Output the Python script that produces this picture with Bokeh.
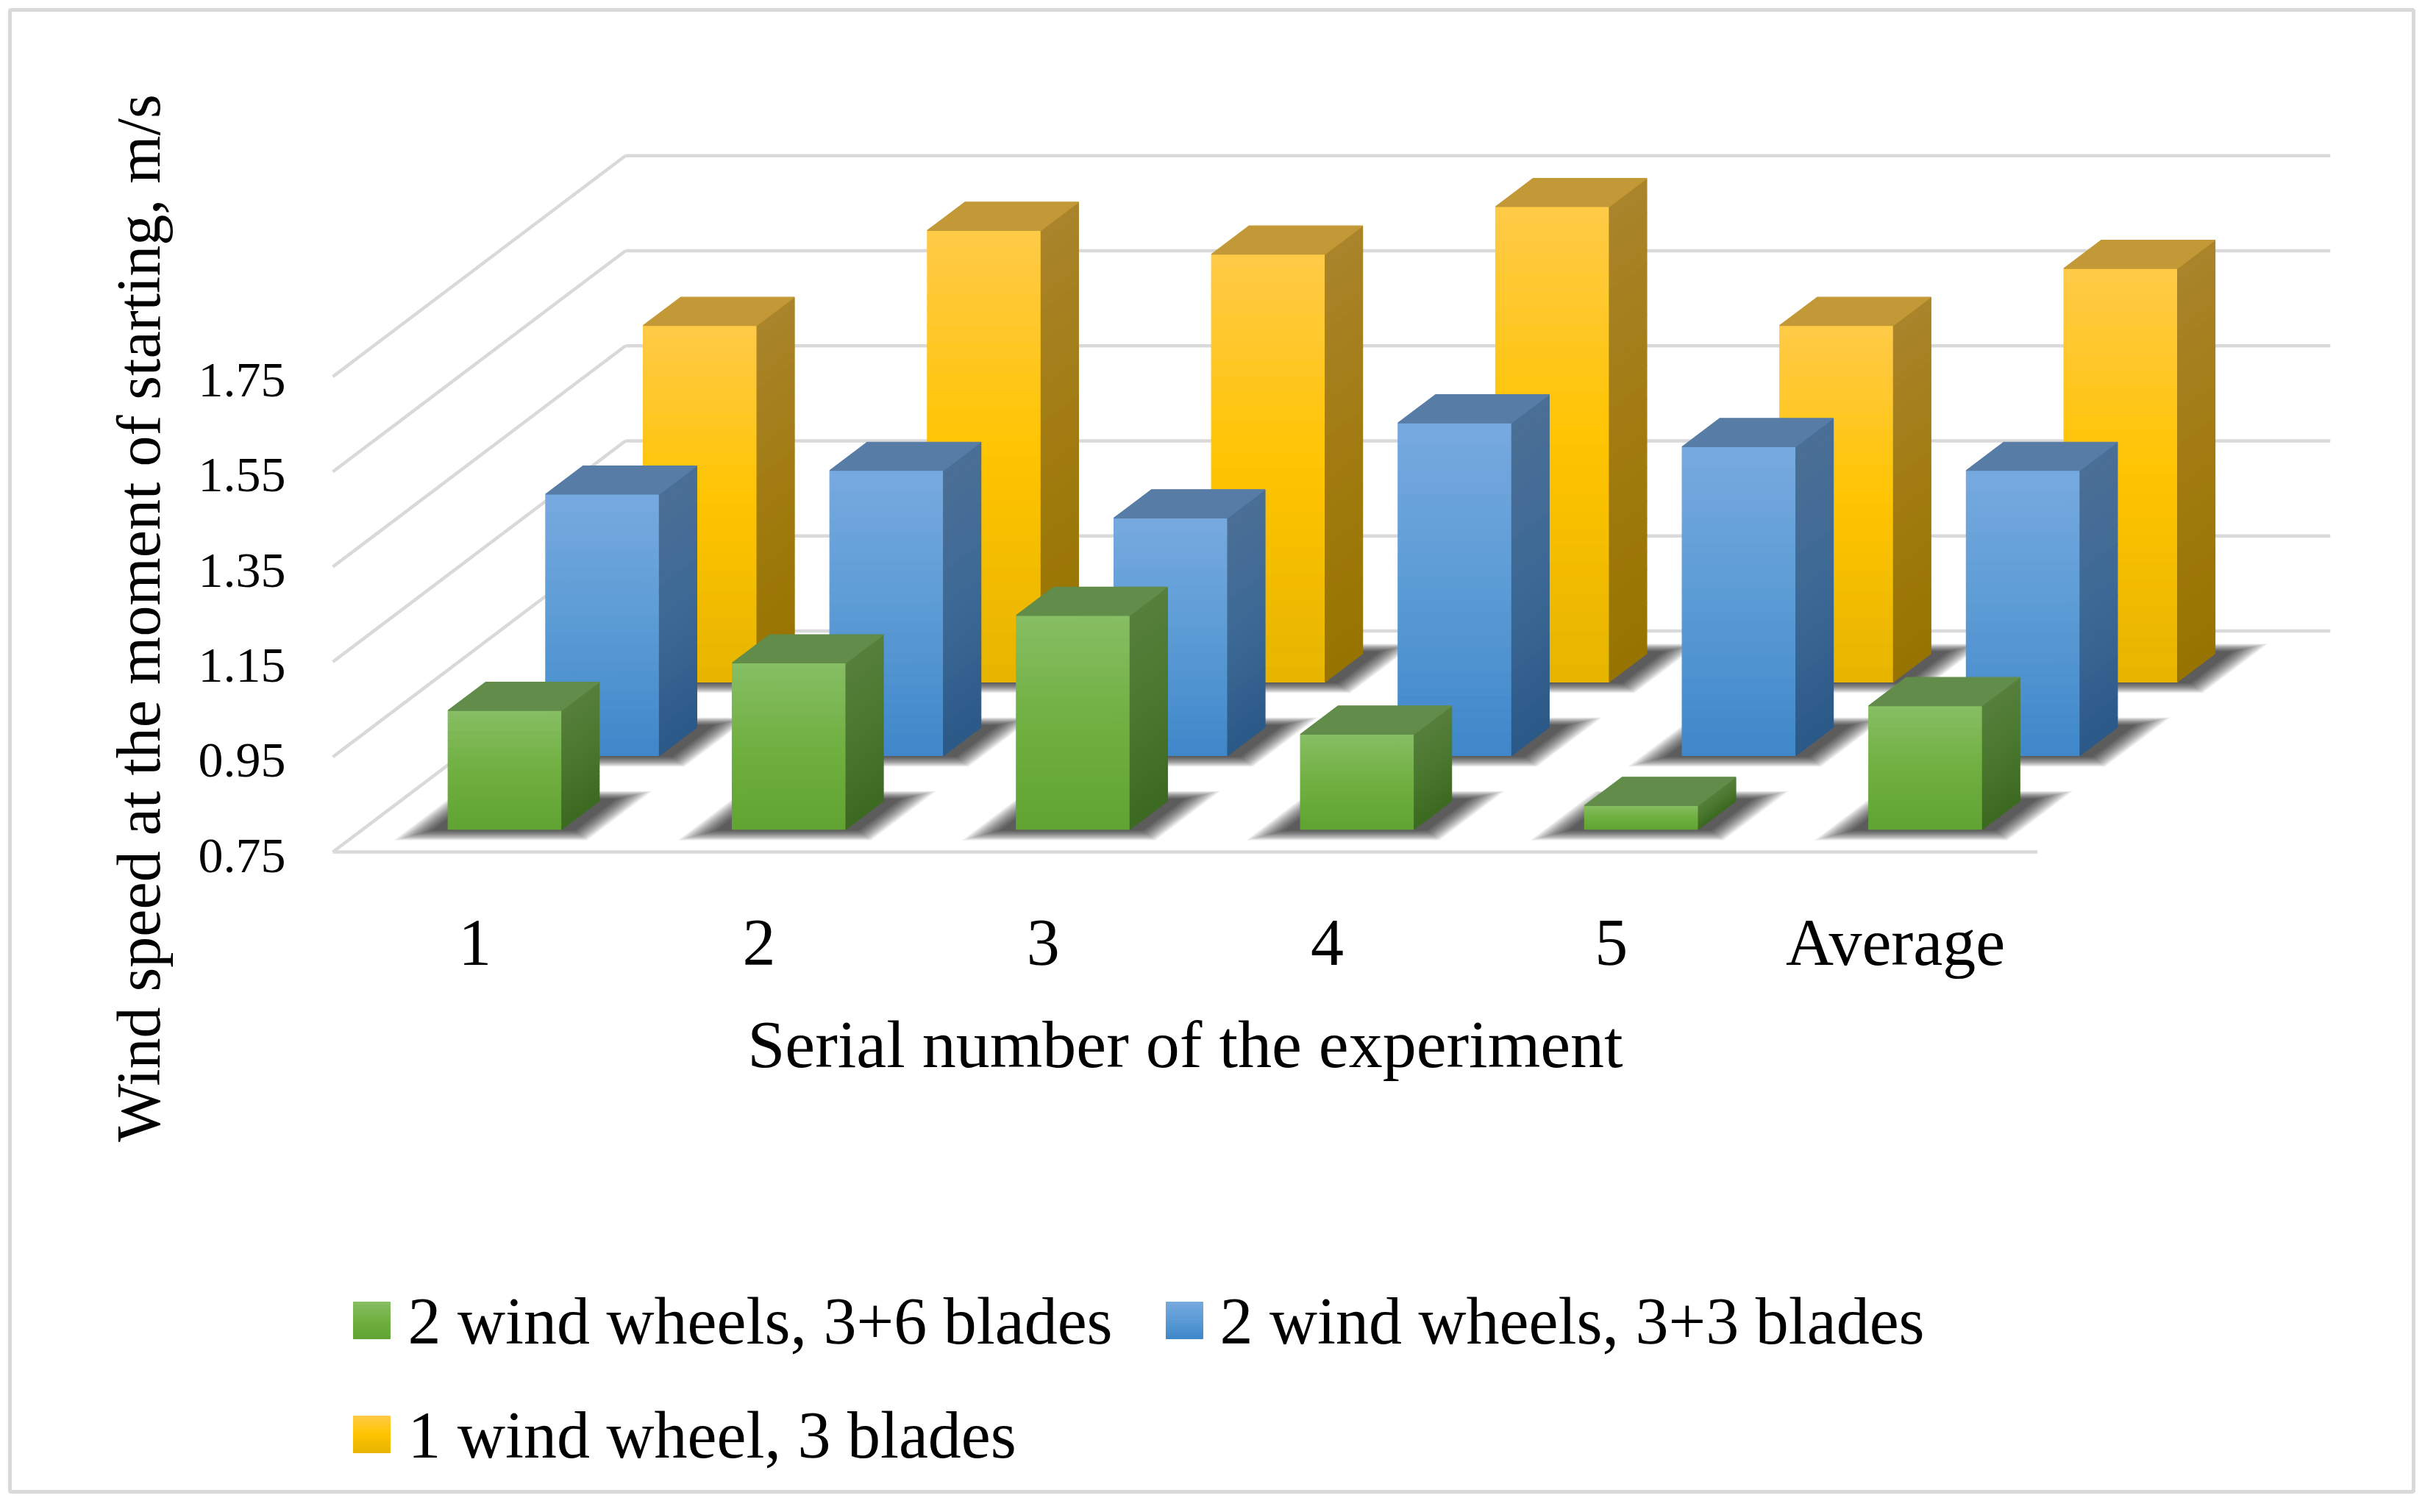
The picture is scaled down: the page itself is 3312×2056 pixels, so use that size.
import math
from bokeh.plotting import figure
from bokeh.models import Range1d
from bokeh.core.properties import value
from bokeh.embed import file_html
from bokeh.resources import INLINE

# ---------------- data ----------------
categories = ["1", "2", "3", "4", "5", "Average"]
series_names = ["2 wind wheels, 3+6 blades", "2 wind wheels, 3+3 blades", "1 wind wheel, 3 blades"]
green_vals = [1.00, 1.10, 1.20, 0.95, 0.80, 1.01]
blue_vals = [1.30, 1.35, 1.25, 1.45, 1.40, 1.35]
yellow_vals = [1.50, 1.70, 1.65, 1.75, 1.50, 1.62]
y_ticks = [0.75, 0.95, 1.15, 1.35, 1.55, 1.75]
y_tick_labels = ["0.75", "0.95", "1.15", "1.35", "1.55", "1.75"]
x_title = "Serial number of the experiment"
y_title = "Wind speed at the moment of starting, m/s"

series_vals = [green_vals, blue_vals, yellow_vals]

# ---------------- styles ----------------
FONT = value("Liberation Serif")
GRID_COLOR = "#d9d9d9"
STYLES = [
    dict(front=["#87be64", "#70b041", "#61a434"], side=["#567f3d", "#4a782e", "#3d6921"], top="#618c49"),
    dict(front=["#77aadf", "#5b9bd5", "#3f87ca"], side=["#4b6f96", "#3d6996", "#2b5987"], top="#577ca6"),
    dict(front=["#ffca48", "#ffc400", "#e6b400"], side=["#aa842b", "#a17b10", "#977400"], top="#c39837"),
]

# ---------------- geometry (projection) ----------------
W, H = 3296, 2040          # canvas
MARGIN = 8                 # page margin
FRONT_LEFT = 460           # page px of front-left floor corner
FLOOR_Y = 1166             # page px of front floor line
PX_CAT = 386.3             # px per category
PX_VAL = 646.3             # px per value unit
DEPTH_DX = 398.0
DEPTH_DY = 300.5
BASE = 0.75
DU = DEPTH_DX / PX_CAT
DV = DEPTH_DY / PX_VAL
HALF_W = 0.2
HALF_D = 0.064
N_CAT = len(categories)

x0 = -(FRONT_LEFT - MARGIN) / PX_CAT
x1 = (W - (FRONT_LEFT - MARGIN)) / PX_CAT
y1 = BASE + (FLOOR_Y - MARGIN) / PX_VAL
y0 = BASE - (H - (FLOOR_Y - MARGIN)) / PX_VAL


def pu(px):  # page x -> data x
    return (px - FRONT_LEFT) / PX_CAT


def pv(py):  # page y -> data y
    return BASE + (FLOOR_Y - py) / PX_VAL


def proj(u, v, z):
    return u + DU * z, v + DV * z


def hex2rgb(h):
    h = h.lstrip("#")
    return tuple(int(h[i:i + 2], 16) for i in (0, 2, 4))


def mix(a, b, t):
    ca, cb = hex2rgb(a), hex2rgb(b)
    return "#%02x%02x%02x" % tuple(int(round(ca[i] + (cb[i] - ca[i]) * t)) for i in range(3))


def grad(stops, t):
    if t < 0.5:
        return mix(stops[0], stops[1], t / 0.5)
    return mix(stops[1], stops[2], (t - 0.5) / 0.5)


p = figure(width=W, height=H, x_range=Range1d(x0, x1), y_range=Range1d(y0, y1),
           output_backend="svg", toolbar_location=None,
           x_axis_location=None, y_axis_location=None, min_border=0)
p.outline_line_color = None
p.background_fill_color = "white"
p.border_fill_color = "white"
p.xgrid.visible = False
p.ygrid.visible = False

# outer chart border
p.quad(left=[pu(21)], right=[pu(3289)], top=[pv(21)], bottom=[pv(2036)],
       fill_color=None, line_color=GRID_COLOR, line_width=5)

# ---------------- walls / gridlines ----------------
gx, gy = [], []
for t in y_ticks:
    bx0, by0 = proj(0, t, 1.0)
    bx1, by1 = proj(N_CAT, t, 1.0)
    gx.append([bx0, bx1]); gy.append([by0, by1])       # back wall
    gx.append([0, bx0]); gy.append([t, by0])           # left wall
gx.append([0, N_CAT]); gy.append([BASE, BASE])         # front floor edge
p.multi_line(gx, gy, line_color=GRID_COLOR, line_width=4.5)

# ---------------- soft shadows on the floor ----------------
sh_x, sh_y = [], []
NL = 16
for s, vals in enumerate(series_vals):
    zc = (s + 0.5) / 3.0
    zf, zb = zc - HALF_D, zc + HALF_D
    for i, v in enumerate(vals):
        u0, u1 = i + 0.5 - HALF_W, i + 0.5 + HALF_W
        for k in range(NL):
            f = k / (NL - 1)
            e = 0.05 + 0.09 * f
            ef = 0.005 + 0.045 * f
            eb = 0.01 + 0.035 * f
            pts = [proj(u0 - e, BASE, zf - ef), proj(u1 + e, BASE, zf - ef),
                   proj(u1 + e, BASE, zb + eb), proj(u0 - e, BASE, zb + eb)]
            sh_x.append([q[0] for q in pts]); sh_y.append([q[1] for q in pts])
p.patches(sh_x, sh_y, fill_color="black", fill_alpha=0.06, line_color=None)

# ---------------- bars (back row first) ----------------
N = 28
bx, by, bc = [], [], []
for s in [2, 1, 0]:
    vals = series_vals[s]
    st = STYLES[s]
    zc = (s + 0.5) / 3.0
    zf, zb = zc - HALF_D, zc + HALF_D
    for i, v in enumerate(vals):
        u0, u1 = i + 0.5 - HALF_W, i + 0.5 + HALF_W
        h = v - BASE
        for k in range(N):
            vh = v - h * k / N
            vl = v - h * (k + 1) / N
            t = (k + 0.5) / N
            f = [proj(u0, vl, zf), proj(u1, vl, zf), proj(u1, vh, zf), proj(u0, vh, zf)]
            bx.append([q[0] for q in f]); by.append([q[1] for q in f]); bc.append(grad(st["front"], t))
            sd = [proj(u1, vl, zf), proj(u1, vl, zb), proj(u1, vh, zb), proj(u1, vh, zf)]
            bx.append([q[0] for q in sd]); by.append([q[1] for q in sd]); bc.append(grad(st["side"], t))
        tp = [proj(u0, v, zf), proj(u1, v, zf), proj(u1, v, zb), proj(u0, v, zb)]
        bx.append([q[0] for q in tp]); by.append([q[1] for q in tp]); bc.append(st["top"])
p.patches(bx, by, fill_color=bc, line_color=bc, line_width=1.2)

# ---------------- axis texts ----------------
p.text(x=[0] * len(y_ticks), y=y_ticks, text=y_tick_labels, x_offset=-64, y_offset=5,
       text_align="right", text_baseline="alphabetic", text_font=FONT,
       text_font_size="68px", text_color="black")
p.text(x=[i + 0.5 for i in range(N_CAT)], y=[BASE] * N_CAT, text=categories, y_offset=123,
       text_align="center", text_baseline="alphabetic", text_font=FONT,
       text_font_size="90px", text_color="black")
p.text(x=[N_CAT / 2.0], y=[BASE], text=[x_title], y_offset=261,
       text_align="center", text_baseline="alphabetic", text_font=FONT,
       text_font_size="92px", text_color="black")
p.text(x=[pu(196)], y=[pv(848)], text=[y_title], angle=math.pi / 2,
       text_align="center", text_baseline="alphabetic", text_font=FONT,
       text_font_size="84px", text_color="black")

# ---------------- legend ----------------
legend_pos = [(488, 1778, 562), (1593, 1778, 1666), (488, 1933, 562)]
lx, ly, lc = [], [], []
for s, (sx, sy, tx) in enumerate(legend_pos):
    n = 12
    for k in range(n):
        top_py = sy + 50 * k / n
        bot_py = sy + 50 * (k + 1) / n
        lx.append([pu(sx), pu(sx + 50), pu(sx + 50), pu(sx)])
        ly.append([pv(bot_py), pv(bot_py), pv(top_py), pv(top_py)])
        lc.append(grad(STYLES[s]["front"], (k + 0.5) / n))
p.patches(lx, ly, fill_color=lc, line_color=lc, line_width=1)
p.text(x=[pu(q[2]) for q in legend_pos], y=[pv(q[1] + 26) for q in legend_pos], text=series_names,
       text_align="left", text_baseline="alphabetic", text_font=FONT,
       text_font_size="90px", text_color="black")

open("out.html", "w").write(file_html(p, INLINE))
